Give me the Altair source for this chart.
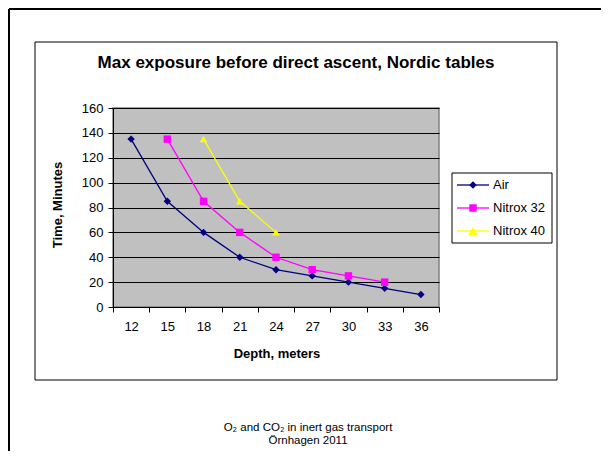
import altair as alt
import pandas as pd

# ---- data ----
depths = [12, 15, 18, 21, 24, 27, 30, 33, 36]
air = [135, 85, 60, 40, 30, 25, 20, 15, 10]
nitrox32 = [None, 135, 85, 60, 40, 30, 25, 20, None]
nitrox40 = [None, None, 135, 85, 60, None, None, None, None]
series_names = ["Air", "Nitrox 32", "Nitrox 40"]
series_colors = ["#000080", "#FF00FF", "#FFFF00"]
series_shapes = ["diamond", "square", "triangle-up"]
series_sizes = [55, 55, 85]
y_ticks = [0, 20, 40, 60, 80, 100, 120, 140, 160]

title_text = "Max exposure before direct ascent, Nordic tables"
x_title = "Depth, meters"
y_title = "Time, Minutes"
footer_1 = "O\u2082 and CO\u2082 in inert gas transport"
footer_2 = "\u00d6rnhagen 2011"

rows = []
for name, vals in zip(series_names, [air, nitrox32, nitrox40]):
    for d, v in zip(depths, vals):
        if v is not None:
            rows.append({"Depth": d, "Time": v, "Series": name})
df = pd.DataFrame(rows)

FONT = "Liberation Sans"
W, H = 326, 199

color_scale = alt.Scale(domain=series_names, range=series_colors)
shape_scale = alt.Scale(domain=series_names, range=series_shapes)
size_scale = alt.Scale(domain=series_names, range=series_sizes)

x_enc = alt.X(
    "Depth:O",
    sort=depths,
    scale=alt.Scale(domain=depths, paddingInner=0, paddingOuter=0),
    axis=alt.Axis(
        title=None, labelAngle=0, tickBand="extent", tickSize=5, labelPadding=8,
        domainColor="black", tickColor="black", labelColor="black",
        labelFont=FONT, labelFontSize=13, grid=False,
    ),
)
y_enc = alt.Y(
    "Time:Q",
    scale=alt.Scale(domain=[0, 160], nice=False, zero=True),
    axis=alt.Axis(
        title=None, values=y_ticks, grid=True, gridColor="black", gridWidth=1,
        gridOpacity=1, domainColor="black", tickColor="black", tickSize=5,
        labelPadding=5, labelColor="black", labelFont=FONT, labelFontSize=13,
    ),
)

base = alt.Chart(df)
lines = base.mark_line(strokeWidth=1.3).encode(
    x=x_enc, y=y_enc,
    color=alt.Color("Series:N", scale=color_scale, legend=None),
    detail="Series:N",
)
points = base.mark_point(filled=True, opacity=1).encode(
    x=x_enc, y=y_enc,
    color=alt.Color("Series:N", scale=color_scale, legend=None),
    shape=alt.Shape("Series:N", scale=shape_scale, legend=None),
    size=alt.Size("Series:N", scale=size_scale, legend=None),
)


def one(text=""):
    return alt.Chart(pd.DataFrame({"t": [text]}))


layers = []

# outer slide frame (top and left edges)
layers.append(one().mark_rule(color="black", strokeWidth=2).encode(
    x=alt.value(-104), x2=alt.value(W + 170), y=alt.value(-99)))
layers.append(one().mark_rule(color="black", strokeWidth=2).encode(
    x=alt.value(-104), y=alt.value(-99), y2=alt.value(H + 160)))

# chart box
layers.append(one().mark_rect(fill="white", fillOpacity=0, stroke="black", strokeWidth=1).encode(
    x=alt.value(-78), x2=alt.value(444), y=alt.value(-66), y2=alt.value(272)))

# title and axis titles
layers.append(one(title_text).mark_text(
    font=FONT, fontSize=17, fontWeight="bold", color="black", align="center", baseline="middle"
).encode(x=alt.value(183), y=alt.value(-45), text="t:N"))
layers.append(one(x_title).mark_text(
    font=FONT, fontSize=13, fontWeight="bold", color="black", align="center", baseline="middle"
).encode(x=alt.value(164), y=alt.value(246), text="t:N"))
layers.append(one(y_title).mark_text(
    font=FONT, fontSize=13, fontWeight="bold", color="black", align="center", baseline="middle",
    angle=270,
).encode(x=alt.value(-55), y=alt.value(97), text="t:N"))

layers.append(lines)
layers.append(points)

# legend
layers.append(one().mark_rect(fill="white", stroke="black", strokeWidth=1).encode(
    x=alt.value(339), x2=alt.value(439), y=alt.value(65), y2=alt.value(135)))
for i, (name, col, shp, sz) in enumerate(zip(series_names, series_colors, series_shapes, series_sizes)):
    yy = 77 + 23 * i
    layers.append(one().mark_rule(color=col, strokeWidth=1.3).encode(
        x=alt.value(344), x2=alt.value(376), y=alt.value(yy)))
    layers.append(one().mark_point(filled=True, opacity=1, size=sz, color=col, shape=shp).encode(
        x=alt.value(360), y=alt.value(yy)))
    layers.append(one(name).mark_text(
        font=FONT, fontSize=13, color="black", align="left", baseline="middle"
    ).encode(x=alt.value(380), y=alt.value(yy), text="t:N"))

# footer
layers.append(one(footer_1).mark_text(
    font=FONT, fontSize=11.5, color="black", align="center", baseline="middle"
).encode(x=alt.value(195), y=alt.value(320), text="t:N"))
layers.append(one(footer_2).mark_text(
    font=FONT, fontSize=11.5, color="black", align="center", baseline="middle"
).encode(x=alt.value(195), y=alt.value(333), text="t:N"))

chart = alt.layer(*layers).properties(
    width=W, height=H,
    autosize=alt.AutoSizeParams(type="none"),
    padding={"left": 105, "top": 100, "right": 162, "bottom": 144},
    background="white",
).configure_view(
    fill="#C0C0C0", stroke="#808080", strokeWidth=1.5,
)

chart.save("out.html", embed_options={"renderer": "svg", "actions": False})
